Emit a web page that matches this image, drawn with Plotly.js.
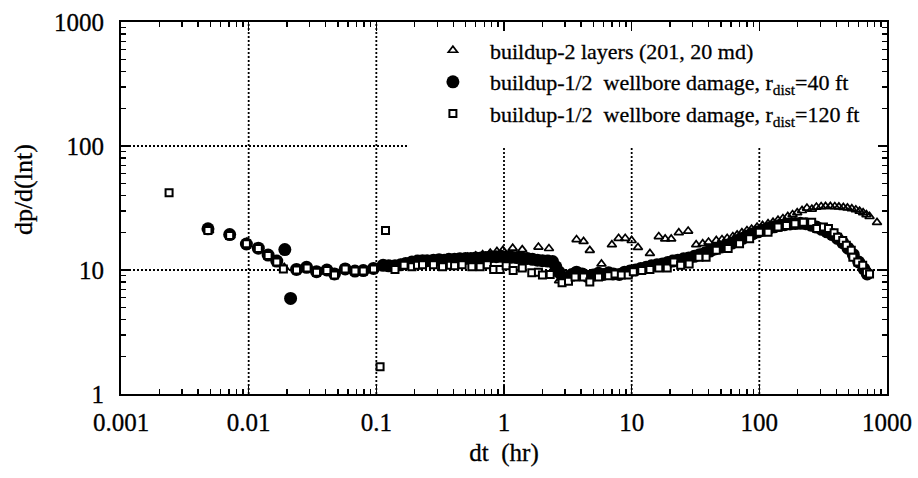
<!DOCTYPE html>
<html>
<head>
<meta charset="utf-8">
<script src="https://cdn.plot.ly/plotly-3.0.1.min.js"></script>
<style>
  html, body { margin: 0; padding: 0; background: #fff; }
  #chart { width: 918px; height: 478px; }
  #chart text { stroke: #000; stroke-width: 0.3px; }
</style>
</head>
<body>
<div id="chart"></div>
<script>
// Derivative plot: dp/d(ln t) versus shut-in time for three buildup cases.

// buildup - 2 layers (201, 20 md)
const triDt = [0.0049, 0.0072, 0.0097, 0.012, 0.0143, 0.0168, 0.019, 0.024, 0.029, 0.034,
  0.041, 0.047, 0.057, 0.068, 0.080, 0.095, 0.11, 0.13, 0.155, 0.185,
  0.22, 0.26, 0.3, 0.35, 0.4, 0.46, 0.52, 0.6, 0.68, 0.78,
  0.88, 0.98, 1.17, 1.39, 1.86, 2.25, 2.7, 3.0, 3.3, 3.7,
  4.2, 4.7, 5.8, 7.0, 7.9, 8.9, 10, 11.2, 13.9, 16.3,
  18.3, 20.4, 23.4, 27.7, 32, 36, 40, 46, 51, 56,
  62, 67, 73, 80, 87, 96, 106, 117, 128, 140,
  153, 167, 182, 198, 216, 236, 258, 280, 305, 330,
  360, 390, 420, 455, 490, 530, 570, 610, 650, 690,
  730, 835];
const triDp = [20.8, 18.8, 16.8, 14.6, 13.0, 11.7, 10.5, 10.0, 10.3, 9.8,
  10.0, 9.4, 10.1, 9.9, 10.0, 10.4, 10.8, 11.0, 11.2, 11.5,
  11.7, 11.9, 12.0, 12.1, 12.3, 12.5, 12.7, 13.0, 13.3, 13.7,
  14.1, 14.4, 15.0, 14.6, 15.3, 14.9, 8.2, 8.0, 8.5, 17.6,
  17.0, 14.4, 11.2, 16.0, 18.0, 18.0, 17.3, 15.2, 13.6, 18.6,
  17.8, 17.8, 20.0, 20.6, 16.0, 16.3, 16.8, 17.3, 17.6, 18.0,
  18.6, 19.2, 20.0, 20.8, 21.4, 22.2, 22.9, 23.6, 24.3, 25.2,
  26.0, 27.0, 28.0, 29.0, 30.2, 31.6, 31.0, 32.2, 32.5, 32.6,
  32.6, 32.5, 32.3, 32.0, 31.7, 31.2, 30.6, 29.8, 29.0, 28.0,
  27.0, 24.2];

// buildup - 1/2 wellbore damage, r_dist = 40 ft
const circDt = [0.0048, 0.0071, 0.0096, 0.0119, 0.0142, 0.0166, 0.0192, 0.0213, 0.0237, 0.0284,
  0.034, 0.041, 0.047, 0.057, 0.068, 0.079, 0.095, 0.113, 0.125, 0.14,
  0.155, 0.17, 0.19, 0.21, 0.23, 0.25, 0.28, 0.31, 0.34, 0.37,
  0.41, 0.45, 0.5, 0.55, 0.6, 0.66, 0.72, 0.79, 0.87, 0.95,
  1.05, 1.15, 1.26, 1.38, 1.52, 1.67, 1.83, 2.0, 2.2, 2.4,
  2.55, 2.7, 2.9, 3.1, 3.4, 3.7, 4.1, 4.5, 5.0, 5.5,
  6.0, 6.6, 7.2, 8.0, 8.8, 9.7, 10.7, 11.8, 13.0, 14.3,
  15.8, 17.4, 19.2, 21, 23, 25.5, 28, 31, 34, 37.5,
  41, 45, 50, 55, 61, 67, 74, 81, 89, 98,
  108, 119, 131, 144, 158, 174, 191, 210, 231, 254,
  280, 308, 338, 372, 409, 450, 495, 545, 600, 660,
  700];
const circDp = [21.5, 19.3, 16.2, 15.0, 13.2, 11.8, 14.6, 5.9, 10.1, 10.5,
  9.7, 10.0, 9.3, 10.2, 9.8, 9.9, 10.3, 10.9, 10.8, 10.8,
  11.0, 11.3, 11.6, 11.8, 11.9, 11.9, 12.0, 12.1, 12.0, 12.2,
  12.2, 12.3, 12.4, 12.4, 12.5, 12.5, 12.6, 12.8, 12.8, 12.9,
  12.8, 12.7, 12.6, 12.5, 12.4, 12.2, 12.0, 11.9, 11.8, 11.7,
  10.6, 9.6, 8.6, 8.7, 9.2, 9.6, 9.3, 8.9, 9.1, 9.4,
  9.2, 9.5, 9.3, 9.2, 9.6, 9.8, 10.0, 10.3, 10.5, 10.8,
  11.0, 11.2, 11.5, 11.8, 12.0, 12.3, 12.5, 12.9, 13.3, 13.7,
  14.2, 14.8, 15.3, 15.8, 16.5, 17.3, 18.0, 18.8, 19.6, 20.3,
  21.0, 21.7, 22.3, 22.8, 23.2, 23.5, 23.7, 23.8, 23.6, 23.0,
  22.2, 21.3, 20.3, 19.3, 18.0, 16.6, 15.0, 13.3, 11.6, 10.2,
  9.3];

// buildup - 1/2 wellbore damage, r_dist = 120 ft
const sqDt = [0.00238, 0.0048, 0.0071, 0.0096, 0.0119, 0.0142, 0.0166, 0.0187, 0.0237, 0.0287,
  0.034, 0.041, 0.047, 0.057, 0.068, 0.079, 0.095, 0.107, 0.118, 0.14,
  0.165, 0.19, 0.21, 0.23, 0.28, 0.33, 0.38, 0.41, 0.47, 0.56,
  0.65, 0.74, 0.83, 0.93, 1.04, 1.18, 1.39, 1.65, 1.86, 2.0,
  2.3, 2.85, 3.2, 3.6, 4.2, 4.7, 5.5, 6.6, 7.4, 8.3,
  9.4, 10.3, 12, 13.9, 16.3, 19, 21.4, 24.2, 28.2, 33.7,
  38.3, 46, 57, 70, 84, 100, 117, 140, 163, 190,
  221, 257, 282, 318, 348, 385, 410, 450, 480, 525,
  540, 590, 645, 690, 730];
const sqDp = [41.9, 20.8, 19.0, 16.3, 14.9, 13.1, 11.6, 10.2, 10.0, 10.4,
  9.6, 9.9, 9.1, 10.2, 9.8, 9.8, 10.2, 1.66, 20.8, 10.1,
  10.9, 10.6, 10.9, 11.0, 11.0, 10.6, 10.9, 10.8, 11.0, 10.6,
  10.6, 11.0, 10.1, 10.1, 10.8, 9.9, 10.4, 9.5, 9.6, 9.1,
  9.2, 7.9, 8.1, 8.8, 8.8, 8.0, 8.8, 9.0, 9.3, 9.1,
  9.1, 9.7, 9.9, 10.1, 10.4, 10.4, 11.6, 10.9, 11.2, 12.7,
  12.7, 14.4, 14.9, 16.3, 17.9, 20.2, 20.2, 22.2, 22.9, 23.6,
  24.3, 24.3, 21.6, 22.2, 21.6, 20.0, 18.4, 17.3, 15.8, 14.4,
  12.7, 11.6, 10.9, 9.6, 9.3];

// Axis ticks
const xTickVals = [0.001, 0.01, 0.1, 1, 10, 100, 1000];
const xTickText = ['0.001', '0.01', '0.1', '1', '10', '100', '1000'];
const yTickVals = [1, 10, 100, 1000];
const yTickText = ['1', '10', '100', '1000'];

const legendNames = [
  'buildup-2 layers (201, 20 md)',
  'buildup-1/2  wellbore damage, r<sub>dist</sub>=40 ft',
  'buildup-1/2  wellbore damage, r<sub>dist</sub>=120 ft'
];
const xTitle = 'dt\u00a0\u00a0(hr)';
const yTitle = 'dp/d(lnt)';

const serif = "'Liberation Serif', 'Times New Roman', Times, serif";

const traces = [
  {
    x: triDt, y: triDp, type: 'scatter', mode: 'markers', name: legendNames[0],
    legendgroup: 'a',
    marker: { symbol: 'triangle-up-open', size: 8, color: '#000', line: { width: 1.7, color: '#000' } }
  },
  {
    x: circDt, y: circDp, type: 'scatter', mode: 'markers', name: legendNames[1],
    legendgroup: 'b',
    marker: { symbol: 'circle', size: 13, color: '#000', line: { width: 0 } }
  },
  {
    x: sqDt, y: sqDp, type: 'scatter', mode: 'markers', name: legendNames[2],
    legendgroup: 'c',
    marker: { symbol: 'square', size: 7, color: '#fff', line: { width: 2, color: '#000' } }
  }
];

// dotted reference grid, partly left open around the legend block
const dotted = { color: '#000', width: 1.8, dash: '2px,2px' };
const shapes = [];
[0.01, 0.1].forEach(v => shapes.push({ type: 'line', layer: 'below', xref: 'x', yref: 'paper', x0: v, x1: v, y0: 0, y1: 1, line: dotted }));
[1, 10, 100].forEach(v => shapes.push({ type: 'line', layer: 'below', xref: 'x', yref: 'paper', x0: v, x1: v, y0: 0, y1: 0.664, line: dotted }));
shapes.push({ type: 'line', layer: 'below', xref: 'paper', yref: 'y', x0: 0, x1: 1, y0: 10, y1: 10, line: dotted });
shapes.push({ type: 'line', layer: 'below', xref: 'paper', yref: 'y', x0: 0, x1: 0.375, y0: 100, y1: 100, line: dotted });

const axisCommon = {
  type: 'log',
  showgrid: false,
  zeroline: false,
  showline: true,
  linecolor: '#000',
  linewidth: 2,
  mirror: 'ticks',
  ticks: 'inside',
  ticklen: 9,
  tickwidth: 1.6,
  tickcolor: '#000',
  tickfont: { family: serif, size: 25, color: '#000' },
  minor: { ticks: 'inside', ticklen: 5, tickwidth: 1.4, tickcolor: '#000', dtick: 'D1', showgrid: false }
};

const layout = {
  width: 918,
  height: 478,
  margin: { l: 121, r: 31, t: 22, b: 84 },
  paper_bgcolor: '#fff',
  plot_bgcolor: '#fff',
  showlegend: true,
  legend: {
    x: 0.385, y: 0.98, xanchor: 'left', yanchor: 'top',
    bgcolor: 'rgba(255,255,255,0)',
    borderwidth: 0,
    traceorder: 'grouped',
    tracegroupgap: 0,
    itemwidth: 64,
    font: { family: serif, size: 22, color: '#000' }
  },
  xaxis: Object.assign({}, axisCommon, {
    range: [-3, 3],
    tickvals: xTickVals,
    ticktext: xTickText,
    ticklabelstandoff: 5,
    title: { text: xTitle, font: { family: serif, size: 25, color: '#000' }, standoff: 8 }
  }),
  yaxis: Object.assign({}, axisCommon, {
    range: [0, 3],
    tickvals: yTickVals,
    ticktext: yTickText,
    ticklabelstandoff: 10
  }),
  annotations: [{
    text: yTitle, textangle: -90, showarrow: false,
    xref: 'paper', yref: 'paper', x: -0.127, y: 0.55, xanchor: 'center', yanchor: 'middle',
    font: { family: serif, size: 26, color: '#000' }
  }],
  shapes: shapes
};

Plotly.newPlot('chart', traces, layout, { staticPlot: true, displayModeBar: false });
</script>
</body>
</html>
